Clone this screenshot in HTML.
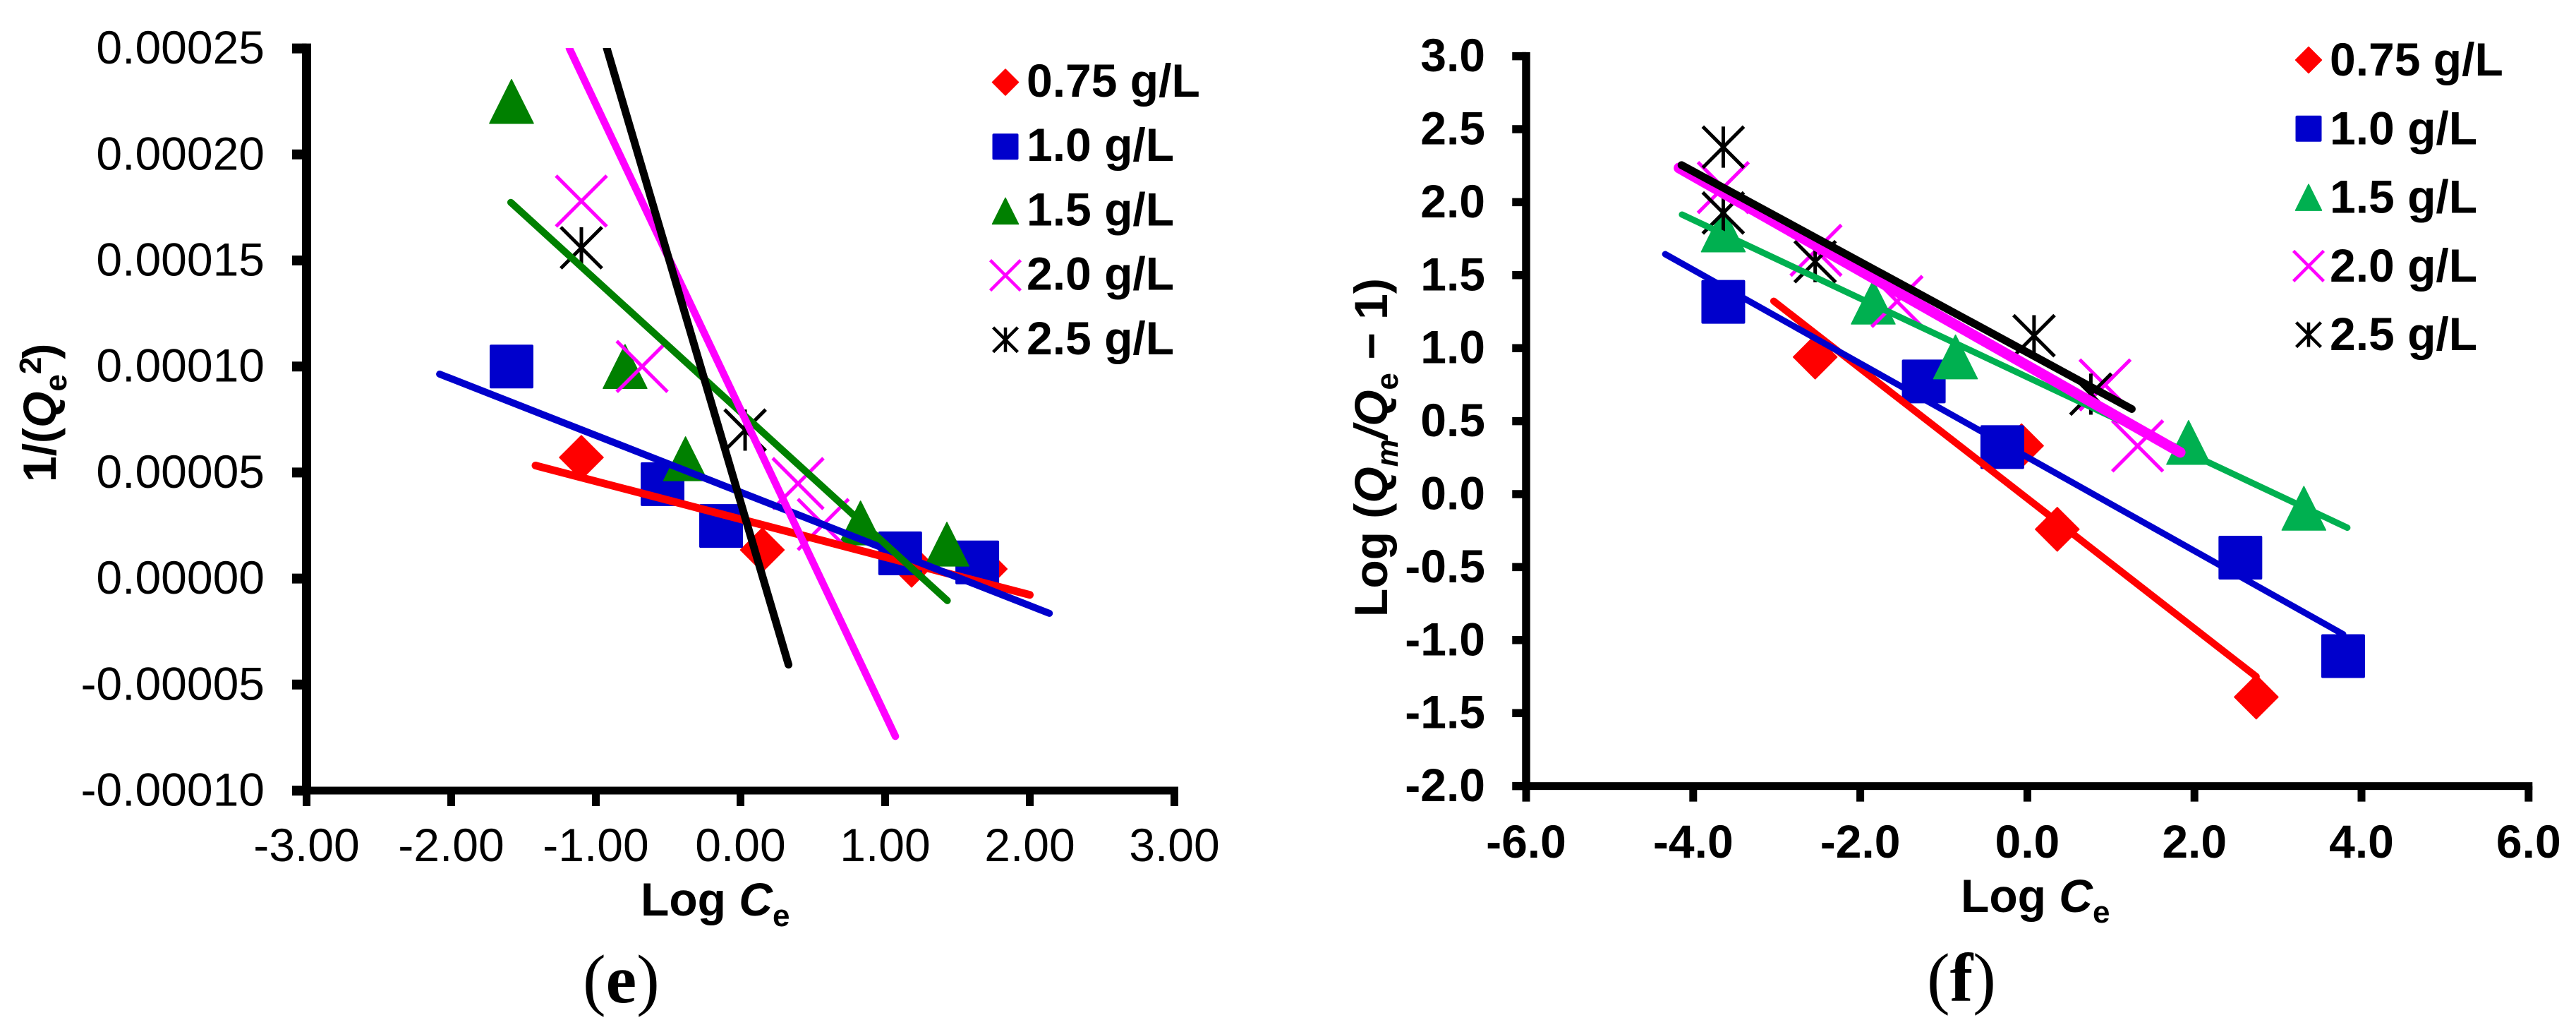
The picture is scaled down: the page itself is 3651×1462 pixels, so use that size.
<!DOCTYPE html>
<html lang="en">
<head>
<meta charset="utf-8">
<title>Adsorption isotherm plots (e) and (f)</title>
<style>
html,body{margin:0;padding:0;background:#fff;}
body{width:3651px;height:1462px;overflow:hidden;}
svg{display:block;}
text{font-family:"Liberation Sans",Arial,sans-serif;fill:#000;}
.tick{font-size:66px;}
.bold{font-weight:bold;}
.cap{font-family:"Liberation Serif","Times New Roman",serif;font-size:98px;}
</style>
</head>
<body>
<svg id="figure" xmlns="http://www.w3.org/2000/svg" width="3651" height="1462" viewBox="0 0 3651 1462">
  <rect x="0" y="0" width="3651" height="1462" fill="#ffffff"/>
  <defs>
    <clipPath id="clip-e"><rect x="434" y="68" width="1240" height="1060"/></clipPath>
  </defs>
  <g id="chart-e"></g>
  <g id="chart-f"></g>

  <text class="bold" font-size="66" transform="translate(79 683) rotate(-90)">1/(<tspan font-style="italic">Q</tspan><tspan font-size="44" dy="15">e</tspan><tspan font-size="44" dy="-36">2</tspan><tspan dy="21" dx="-3">)</tspan></text>
  <text class="bold" font-size="66" x="908" y="1297">Log <tspan font-style="italic">C</tspan><tspan font-size="44" dy="15">e</tspan></text>
  <text class="cap" x="826" y="1420">(<tspan font-weight="bold">e</tspan>)</text>

  <text class="bold" font-size="66" transform="translate(1966 874) rotate(-90)">Log (<tspan font-style="italic">Q</tspan><tspan font-size="44" font-style="italic" dy="15">m</tspan><tspan font-style="italic" dy="-15">/</tspan><tspan font-style="italic">Q</tspan><tspan font-size="44" dy="15">e</tspan><tspan dy="-15"> − 1)</tspan></text>
  <text class="bold" font-size="66" x="2779" y="1292">Log <tspan font-style="italic">C</tspan><tspan font-size="44" dy="15">e</tspan></text>
  <text class="cap" x="2731" y="1418">(<tspan font-weight="bold">f</tspan>)</text>
</svg>

<script>
// ---------- shared data ----------
const seriesLabels = ['0.75 g/L', '1.0 g/L', '1.5 g/L', '2.0 g/L', '2.5 g/L'];

// ---------- chart (e) data ----------
const eXTicks = ['-3.00', '-2.00', '-1.00', '0.00', '1.00', '2.00', '3.00'];
const eYTicks = ['0.00025', '0.00020', '0.00015', '0.00010', '0.00005', '0.00000', '-0.00005', '-0.00010'];

const eX075 = [-1.10, 0.151, 1.183, 1.692];
const eY075 = [0.0000571, 0.0000135, 0.0000063, 0.0000045];
const eX100 = [-1.583, -0.539, -0.134, 1.104, 1.637];
const eY100 = [0.0001, 0.0000445, 0.0000248, 0.0000119, 0.0000076];
const eX150 = [-1.583, -0.798, -0.38, 0.83, 1.427];
const eY150 = [0.000225, 0.0001, 0.0000565, 0.0000262, 0.0000162];
const eX200 = [-1.10, -0.68, 0.398, 0.572];
const eY200 = [0.000178, 0.0001, 0.0000448, 0.0000255];
const eX250 = [-1.10, 0.032];
const eY250 = [0.000156, 0.00007];

const eFitX075 = [-1.417, 2.0];
const eFitY075 = [0.0000533, -0.0000077];
const eFitX100 = [-2.08, 2.135];
const eFitY100 = [0.0000964, -0.0000164];
const eFitX150 = [-1.588, 1.43];
const eFitY150 = [0.0001774, -0.0000104];
const eFitX200 = [-1.183, 1.071];
const eFitY200 = [0.00025, -0.0000744];
const eFitX250 = [-0.924, 0.332];
const eFitY250 = [0.00025, -0.0000406];

// ---------- chart (f) data ----------
const fXTicks = ['-6.0', '-4.0', '-2.0', '0.0', '2.0', '4.0', '6.0'];
const fYTicks = ['3.0', '2.5', '2.0', '1.5', '1.0', '0.5', '0.0', '-0.5', '-1.0', '-1.5', '-2.0'];

const fX075 = [-2.54, -0.07, 0.358, 2.74];
const fY075 = [0.939, 0.331, -0.241, -1.39];
const fX100 = [-3.64, -1.24, -0.30, 2.55, 3.78];
const fY100 = [1.317, 0.772, 0.322, -0.435, -1.11];
const fX150 = [-3.64, -1.845, -0.86, 1.93, 3.31];
const fY150 = [1.81, 1.315, 0.94, 0.354, -0.097];
const fX200 = [-3.64, -2.53, -1.56, 0.93, 1.32];
const fY200 = [2.10, 1.67, 1.32, 0.748, 0.33];
const fX250 = [-3.64, -3.64, -2.54, 0.08, 0.76];
const fY250 = [2.377, 1.926, 1.592, 1.085, 0.685];

const fFitX075 = [-3.036, 2.74];
const fFitY075 = [1.322, -1.25];
const fFitX100 = [-4.335, 3.78];
const fFitY100 = [1.644, -0.96];
const fFitX150 = [-4.134, 3.83];
const fFitY150 = [1.915, -0.23];
const fFitX200 = [-4.17, 1.83];
const fFitY200 = [2.234, 0.286];
const fFitX250 = [-4.14, 1.25];
const fFitY250 = [2.254, 0.583];

// ---------- helpers ----------
const NS = 'http://www.w3.org/2000/svg';
function make(tag, parent, props) {
  const el = document.createElementNS(NS, tag);
  for (const k in props) el.setAttribute(k, props[k]);
  parent.appendChild(el);
  return el;
}
function drawMarker(parent, kind, cx, cy, size, color) {
  const g = make('g', parent, {});
  const h = size / 2;
  if (kind === 'diamond') {
    make('polygon', g, {points: (cx - h) + ',' + cy + ' ' + cx + ',' + (cy - h) + ' ' + (cx + h) + ',' + cy + ' ' + cx + ',' + (cy + h), fill: color, stroke: color, 'stroke-width': 1.5, 'stroke-linejoin': 'round'});
  } else if (kind === 'square') {
    make('rect', g, {x: cx - h, y: cy - h, width: size, height: size, rx: 2, fill: color});
  } else if (kind === 'triangle') {
    make('polygon', g, {points: cx + ',' + (cy - h) + ' ' + (cx + h) + ',' + (cy + h) + ' ' + (cx - h) + ',' + (cy + h), fill: color, stroke: color, 'stroke-width': 1.5, 'stroke-linejoin': 'round'});
  } else if (kind === 'cross') {
    const w = size * 0.58, sw = size > 50 ? 5 : 4.5;
    make('line', g, {x1: cx - w, y1: cy - w, x2: cx + w, y2: cy + w, stroke: color, 'stroke-width': sw});
    make('line', g, {x1: cx - w, y1: cy + w, x2: cx + w, y2: cy - w, stroke: color, 'stroke-width': sw});
  } else {
    const w = size * 0.47, sw = size > 50 ? 5 : 4.5;
    make('line', g, {x1: cx - w, y1: cy - w, x2: cx + w, y2: cy + w, stroke: color, 'stroke-width': sw});
    make('line', g, {x1: cx - w, y1: cy + w, x2: cx + w, y2: cy - w, stroke: color, 'stroke-width': sw});
    make('line', g, {x1: cx, y1: cy - w, x2: cx, y2: cy + w, stroke: color, 'stroke-width': sw});
  }
  return g;
}

const markerKinds = ['diamond', 'square', 'triangle', 'cross', 'asterisk'];

// ---------- chart (e) ----------
const eRoot = document.getElementById('chart-e');
const eColors = ['#ff0000', '#0000cc', '#008000', '#ff00ff', '#000000'];
const eWidths = [11, 10, 10, 10.5, 11];
const eAllX = [eX075, eX100, eX150, eX200, eX250];
const eAllY = [eY075, eY100, eY150, eY200, eY250];
const eFitsX = [eFitX075, eFitX100, eFitX150, eFitX200, eFitX250];
const eFitsY = [eFitY075, eFitY100, eFitY150, eFitY200, eFitY250];
function exPos(v) { return 434.5 + (v + 3) * 205; }
function eyPos(v) { return 819.6 - (v / 0.00005) * 150.2; }

// ---------- chart (f) ----------
const fRoot = document.getElementById('chart-f');
const fColors = ['#ff0000', '#0000cc', '#00b050', '#ff00ff', '#000000'];
const fWidths = [10, 9, 9, 15, 11];
const fAllX = [fX075, fX100, fX150, fX200, fX250];
const fAllY = [fY075, fY100, fY150, fY200, fY250];
const fFitsX = [fFitX075, fFitX100, fFitX150, fFitX200, fFitX250];
const fFitsY = [fFitY075, fFitY100, fFitY150, fFitY200, fFitY250];
function fxPos(v) { return 2163 + (v + 6) * 118.4; }
function fyPos(v) { return 700 - v * 206.8; }

function drawAxes(root, xTicks, yTicks, xPos, yPos, opts) {
  const x0 = xPos(parseFloat(xTicks[0])), x1 = xPos(parseFloat(xTicks[xTicks.length - 1]));
  const yTop = yPos(parseFloat(yTicks[0])), yBot = yPos(parseFloat(yTicks[yTicks.length - 1]));

  const yAxis = make('line', root, {x1: x0, y1: yTop - opts.th / 2, x2: x0, y2: yBot, stroke: '#000', 'stroke-width': opts.yw});
  
  

  const xAxis = make('line', root, {x1: x0 - opts.yw / 2, y1: yBot, x2: x1 + opts.xw / 2, y2: yBot, stroke: '#000', 'stroke-width': opts.xw});
  
  

  yTicks.forEach(function (label) {
    const y = yPos(parseFloat(label));
    const mark = make('line', root, {x1: x0 - opts.yw / 2 - 14, y1: y, x2: x0, y2: y, stroke: '#000', 'stroke-width': opts.th});
    
    
    const t = make('text', root, {x: opts.yLabelX, y: y + 21.5, 'text-anchor': 'end', class: opts.labelClass});
    t.textContent = label;
    
    
  });

  xTicks.forEach(function (label) {
    const x = xPos(parseFloat(label));
    const mark = make('line', root, {x1: x, y1: yBot, x2: x, y2: yBot + 22, stroke: '#000', 'stroke-width': opts.xw});
    
    
    const t = make('text', root, {x: x, y: opts.xLabelY, 'text-anchor': 'middle', class: opts.labelClass});
    t.textContent = label;
    
    
  });
}

function drawSeries(root, xs, ys, fitX, fitY, xPos, yPos, colors, widths, clip) {
  [0, 1, 2, 3, 4].forEach(function (s) {
    xs[s].forEach(function (v, i) {
      const m = drawMarker(root, markerKinds[s], xPos(v), yPos(ys[s][i]), 62, colors[s]);
      
      
    });
  });
  [0, 1, 2, 3, 4].forEach(function (s) {
    const props = {x1: xPos(fitX[s][0]), y1: yPos(fitY[s][0]), x2: xPos(fitX[s][1]), y2: yPos(fitY[s][1]), stroke: colors[s], 'stroke-width': widths[s], 'stroke-linecap': 'round'};
    if (clip) props['clip-path'] = 'url(#' + clip + ')';
    const line = make('line', root, props);
    
    
  });
}

function drawLegend(root, colors, markerX, textX, firstMarkerY, firstTextY, rowGap) {
  seriesLabels.forEach(function (label, i) {
    const g = make('g', root, {});
    
    
    drawMarker(g, markerKinds[i], markerX, firstMarkerY + i * rowGap, 37, colors[i]);
    const t = make('text', g, {x: textX, y: firstTextY + i * rowGap, class: 'tick bold'});
    t.textContent = label;
  });
}

drawAxes(eRoot, eXTicks, eYTicks, exPos, eyPos, {yw: 13, xw: 11, th: 14, yLabelX: 375, xLabelY: 1220, labelClass: 'tick'});
drawSeries(eRoot, eAllX, eAllY, eFitsX, eFitsY, exPos, eyPos, eColors, eWidths, 'clip-e');
drawLegend(eRoot, eColors, 1425, 1455, 116.5, 137, 91.2);

drawAxes(fRoot, fXTicks, fYTicks, fxPos, fyPos, {yw: 11.5, xw: 11, th: 11.5, yLabelX: 2105, xLabelY: 1215, labelClass: 'tick bold'});
drawSeries(fRoot, fAllX, fAllY, fFitsX, fFitsY, fxPos, fyPos, fColors, fWidths, null);
drawLegend(fRoot, fColors, 3272, 3302, 85, 107, 97.3);
</script>
</body>
</html>
